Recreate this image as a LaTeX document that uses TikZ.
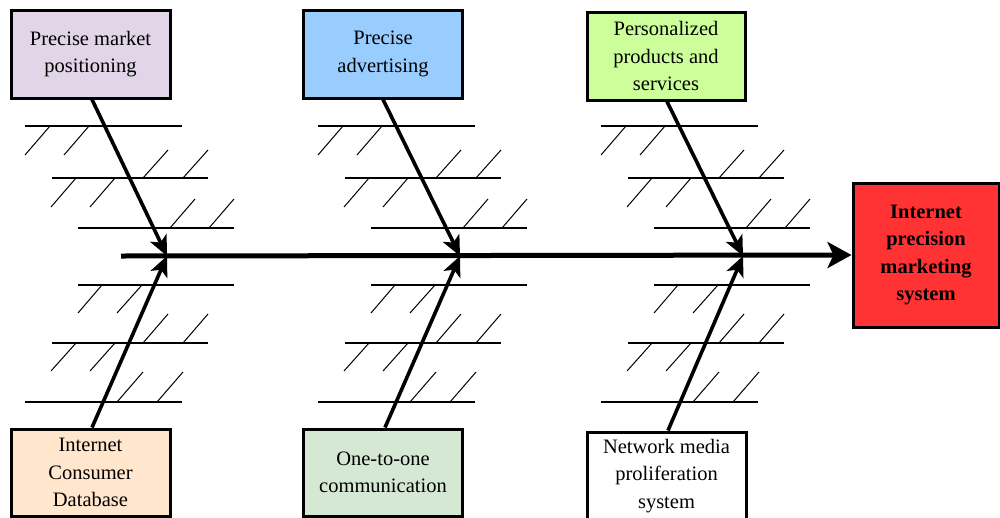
\documentclass[tikz,border=0pt]{standalone}
\usepackage{fontspec}
\setmainfont{Liberation Serif}
\usetikzlibrary{arrows.meta}
\definecolor{cpurple}{HTML}{E1D5E7}
\definecolor{cblue}{HTML}{99CCFF}
\definecolor{cgreen}{HTML}{CCFF99}
\definecolor{corange}{HTML}{FFE6CC}
\definecolor{cmint}{HTML}{D5E8D4}
\definecolor{cred}{HTML}{FF3333}
\tikzset{
  cause/.style={draw=black, line width=3pt, minimum width=159pt, minimum height=88pt,
    inner sep=0pt, align=center, font=\fontsize{20.5}{27.5}\selectfont},
  effect/.style={cause, minimum width=146pt, minimum height=144pt,
    font=\fontsize{20.5}{27.5}\selectfont\bfseries, fill=cred},
  rib/.style={line width=2.6pt},
  hatch/.style={line width=1pt},
  branch/.style={line width=3.6pt, -{Stealth[length=20pt,width=18pt,inset=5pt]}},
  spine/.style={line width=5pt, -{Stealth[length=24pt,width=26pt,inset=6pt]}}
}
\begin{document}
\begin{tikzpicture}[x=1pt,y=-1pt]
\useasboundingbox (0,0) rectangle (1000,517);
% cause boxes
\node[cause, fill=cpurple] (t1) at (90.5,54) {Precise market\\positioning};
\node[cause, fill=cblue] (t2) at (383,54) {Precise\\advertising};
\node[cause, fill=cgreen, minimum width=158pt] (t3) at (666,56) {Personalized\\products and\\services};
\node[cause, fill=corange, minimum height=87pt] (b1) at (90.5,472.5) {Internet\\Consumer\\Database};
\node[cause, fill=cmint, minimum height=87pt] (b2) at (383,472.5) {One-to-one\\communication};
\node[cause, fill=white, minimum height=88pt] (b3) at (666.5,476) {Network media\\proliferation\\system};
\node[effect] (eff) at (926,255) {Internet\\precision\\marketing\\system};
% junctions on the spine
\coordinate (s0) at (121,256);
\coordinate (j1) at (167,256);
\coordinate (j2) at (460,256);
\coordinate (j3) at (743,256);
% ribs and hatches
\foreach \dx in {0,293,576}{
  \begin{scope}[xshift=\dx pt]
    % top
    \draw[rib] (25,126) -- (182,126);
    \draw[hatch] (50,126) -- (25,155) (89,126) -- (64,155);
    \draw[rib] (52,178) -- (208,178);
    \draw[hatch] (143,178) -- (168,150) (183,178) -- (208,150)
                 (76,178) -- (51,207) (115,178) -- (90,207);
    \draw[rib] (78,228) -- (234,228);
    \draw[hatch] (170,228) -- (195,199) (209,228) -- (234,199);
    % bottom
    \draw[rib] (78,285) -- (234,285);
    \draw[hatch] (102,285) -- (78,313) (142,285) -- (117,313);
    \draw[rib] (52,343) -- (208,343);
    \draw[hatch] (143,343) -- (168,314) (183,343) -- (208,314)
                 (76,343) -- (51,371) (115,343) -- (90,371);
    \draw[rib] (25,402) -- (182,402);
    \draw[hatch] (117,402) -- (143,372) (157,402) -- (183,372);
  \end{scope}
}
% spine
\draw[spine] (s0) -- (eff.west);
% branches
\draw[branch] ([xshift=1.5pt]t1.south) -- (j1);
\draw[branch] (t2.south) -- (j2);
\draw[branch] ([xshift=1pt]t3.south) -- (j3);
\draw[branch] ([xshift=1.5pt]b1.north) -- (j1);
\draw[branch] ([xshift=2pt]b2.north) -- (j2);
\draw[branch] ([xshift=1.5pt]b3.north) -- (j3);
\end{tikzpicture}
\end{document}
